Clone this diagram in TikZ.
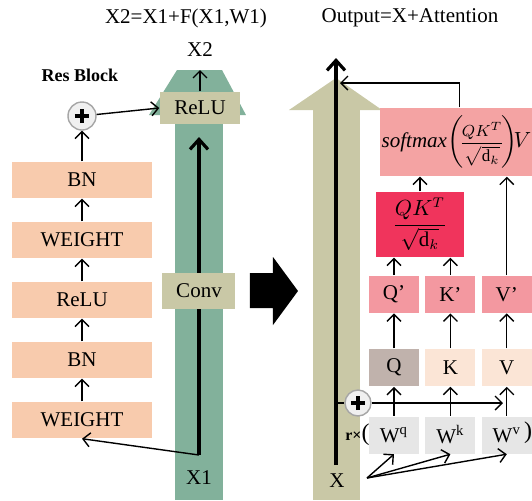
\documentclass[tikz,border=0pt]{standalone}
\usepackage{fontspec}
\setmainfont{Liberation Serif}
\usepackage{amsmath}
\usetikzlibrary{arrows.meta,positioning}

\definecolor{resgreen}{RGB}{130,177,155}
\definecolor{khaki}{RGB}{201,200,166}
\definecolor{peach}{RGB}{248,203,173}
\definecolor{softpink}{RGB}{244,163,163}
\definecolor{crimson}{RGB}{240,52,92}
\definecolor{midpink}{RGB}{243,152,160}
\definecolor{qbrown}{RGB}{192,178,172}
\definecolor{lightpeach}{RGB}{251,229,214}
\definecolor{wgray}{RGB}{230,230,230}

\newcommand{\smallfrac}{\text{\fontsize{8.5}{10}\selectfont$\displaystyle\frac{QK^{T}}{\sqrt{\mathrm{d}_k}}$}}

\tikzset{
  txt/.style={font=\fontsize{10.5}{12}\selectfont, inner sep=1pt},
  layer/.style={txt, fill=peach, minimum width=70pt, minimum height=18pt, inner sep=0pt},
  opbox/.style={txt, fill=khaki, inner sep=0pt},
  small/.style={txt, minimum width=25pt, minimum height=18.5pt, inner sep=0pt},
  plus/.style={circle, draw=gray!70, fill=gray!12, minimum size=14pt, inner sep=0pt,
    path picture={
      \draw[black, line width=1.8pt] ([xshift=-3.6pt]path picture bounding box.center) -- ([xshift=3.6pt]path picture bounding box.center);
      \draw[black, line width=1.8pt] ([yshift=-3.6pt]path picture bounding box.center) -- ([yshift=3.6pt]path picture bounding box.center);
    }},
  bigarrow/.style={line width=1.6pt, -{Straight Barb[length=5pt,width=9pt]}}
}

\begin{document}
\begin{tikzpicture}[x=0.5pt, y=-0.5pt, line width=0.7pt,
  >={Straight Barb[length=3.5pt,width=7pt]}]
  \clip (0,0) rectangle (532,500);

  % residual block
  \fill[resgreen] (175,115) rectangle (223,500);
  \fill[resgreen] (149,115) -- (246,115) -- (222,70) -- (177,70) -- cycle;
  \node[txt] (eq1) at (186,18) {X2=X1+F(X1,W1)};
  \node[txt] (x2) at (200,50) {X2};
  \node[txt, font=\fontsize{9}{10}\selectfont\bfseries] (resb) at (80,75) {Res Block};

  \node[layer] (w1) at (82,420) {WEIGHT};
  \node[layer] (bn1) at (82,360) {BN};
  \node[layer] (relu1) at (82,300) {ReLU};
  \node[layer] (w2) at (82,240) {WEIGHT};
  \node[layer] (bn2) at (82,180) {BN};
  \node[plus] (p1) at (82,116) {};
  \node[opbox, minimum width=40pt, minimum height=16pt] (relu2) at (200,108) {ReLU};

  \coordinate (x1c) at (199,455);
  \coordinate (x2c) at (199,137);
  \coordinate (x2tip) at (200,70);
  \draw[bigarrow] (x1c) -- (x2c);
  \node[opbox, minimum width=36.5pt, minimum height=18pt] (conv) at (199,291) {Conv};
  \node[txt] (x1) at (199,478) {X1};

  \draw[->] (x1c) -- (w1.south);
  \foreach \a/\b in {w1/bn1, bn1/relu1, relu1/w2, w2/bn2}
    \draw[->] (\a) -- (\b);
  \draw[->] (bn2) -- (p1);
  \draw[->] (p1) -- (relu2.west);
  \draw[->] (relu2) -- (x2tip);

  % arrow in between
  \fill (250,273) -- (273,273) -- (273,257) -- (298,291) -- (273,325) -- (273,308) -- (250,308) -- cycle;

  % attention
  \node[txt] (eq2) at (410,18) {Output=X+Attention};
  \fill[khaki] (313,110) rectangle (360,500);
  \fill[khaki] (289,110) -- (382,110) -- (336,78) -- cycle;
  \coordinate (xc) at (336,465);
  \coordinate (outc) at (336,58);
  \draw[bigarrow] (xc) -- (outc);
  \node[txt] (x) at (337,481) {X};

  \node[small, fill=wgray] (wq) at (394,435) {W\textsuperscript{q}};
  \node[small, fill=wgray, right=2.5pt of wq] (wk) {W\textsuperscript{k}};
  \node[small, fill=wgray, right=2.5pt of wk] (wv) {W\textsuperscript{v}};
  \node[small, fill=qbrown, above=14.5pt of wq] (q) {Q};
  \node[small, fill=lightpeach, above=14.5pt of wk] (k) {K};
  \node[small, fill=lightpeach, above=14.5pt of wv] (v) {V};
  \node[small, fill=midpink, above=17.5pt of q] (qp) {Q'};
  \node[small, fill=midpink, above=17.5pt of k] (kp) {K'};
  \node[small, fill=midpink, above=17.5pt of v] (vp) {V'};

  \node[txt, fill=crimson, minimum width=44pt, minimum height=32.5pt] (qk) at (420,224.5)
    {$\dfrac{QK^{T}}{\sqrt{\mathrm{d}_k}}$};
  \node[txt, fill=softpink, anchor=west, minimum height=34pt, text width=78pt, align=left,
    inner xsep=1pt] (sm) at (379,142)
    {$\mathit{softmax}\!\left(\!\smallfrac\!\right)\!\!V$};

  \coordinate (fb) at (340,83);
  \draw[->] (sm.north) |- (fb);
  \draw[->] (qk.north) -- (qk.north |- sm.south);
  \draw[->] (vp.north) -- (vp.north |- sm.south);
  \draw[->] (qp.north) -- (qp.north |- qk.south);
  \draw[->] (kp.north) -- (kp.north |- qk.south);
  \foreach \c in {q,k,v} {
    \draw[->] (w\c) -- (\c);
    \draw[->] (\c) -- (\c p);
  }

  \coordinate (xs) at (336,403);
  \coordinate (vin) at (503,403);
  \node[plus, minimum size=13pt] (p2) at (358,403) {};
  \draw (xs) -- (p2);
  \draw[->] (p2) -- (vin);

  \node[txt, left=-1pt of wq, inner sep=0pt] (rx)
    {{\fontsize{8}{9}\selectfont\bfseries r×}{\fontsize{12}{12}\selectfont(}};
  \node[txt, inner sep=0pt] (rp) at (528,433) {\fontsize{12}{12}\selectfont)};

  \coordinate (xo) at (367,478);
  \draw[->] (xo) -- (wq.south);
  \draw[->] (xo) -- (wk.south);
  \draw[->] (xo) -- (wv.south);
\end{tikzpicture}
\end{document}
